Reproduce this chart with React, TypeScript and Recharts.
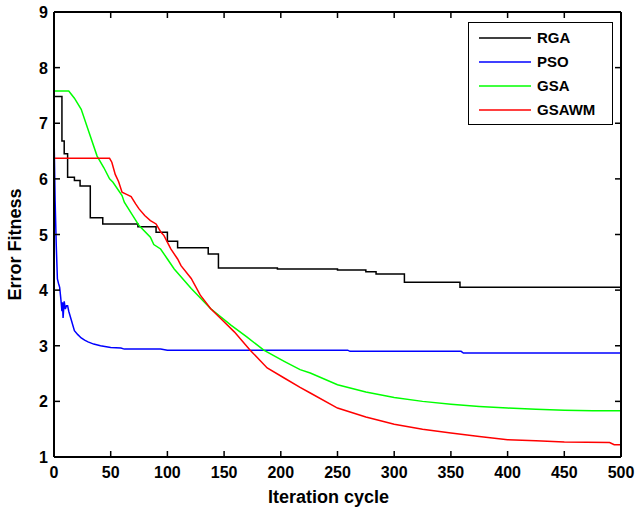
import React from 'react';
import { LineChart, Line, XAxis, YAxis, Legend } from 'recharts';

const FONT = '"Liberation Sans", Arial, Helvetica, sans-serif';

const xTicks = [0, 50, 100, 150, 200, 250, 300, 350, 400, 450, 500];
const yTicks = [1, 2, 3, 4, 5, 6, 7, 8, 9];

const seriesNames = ['RGA', 'PSO', 'GSA', 'GSAWM'];
const seriesColors = ['#000000', '#0000ff', '#00ff00', '#ff0000'];

const rgaIter = [0, 7, 9, 12, 18, 23, 32, 43, 74, 90, 100, 109, 136, 145, 197, 250, 275, 284, 309, 358, 500];
const rgaFit = [7.48, 6.68, 6.45, 6.03, 5.97, 5.87, 5.3, 5.19, 5.14, 5.04, 4.88, 4.76, 4.65, 4.4, 4.38, 4.36, 4.33, 4.29, 4.14, 4.05, 4.05];

const psoIter = [0, 1, 2, 3, 4, 5, 6, 7, 7.5, 8, 9, 10, 11, 12, 13, 15, 18, 21, 24, 27, 30, 35, 41, 50, 59, 62, 94, 100, 259, 261, 359, 361, 500];
const psoFit = [6.84, 5.6, 4.8, 4.2, 4.12, 4.05, 3.85, 3.62, 3.78, 3.5, 3.8, 3.66, 3.72, 3.72, 3.62, 3.48, 3.27, 3.2, 3.14, 3.1, 3.07, 3.03, 3.0, 2.97, 2.96, 2.94, 2.94, 2.92, 2.92, 2.9, 2.9, 2.87, 2.87];

const gsaIter = [0, 13, 18, 24, 31, 38, 44, 49, 52, 60, 62, 75, 85, 88, 94, 100, 106, 121, 138, 156, 170, 185, 203, 217, 226, 250, 275, 300, 325, 350, 375, 400, 425, 450, 475, 500];
const gsaFit = [7.58, 7.58, 7.45, 7.25, 6.83, 6.41, 6.2, 6.0, 5.94, 5.7, 5.58, 5.16, 4.95, 4.82, 4.74, 4.56, 4.38, 4.03, 3.67, 3.37, 3.16, 2.92, 2.72, 2.57, 2.51, 2.3, 2.17, 2.07, 2.0, 1.95, 1.91, 1.88, 1.86, 1.84, 1.83, 1.83];

const gsawmIter = [0, 49, 51, 54, 57, 60, 64, 68, 72, 75, 80, 85, 90, 94, 97, 103, 109, 112, 121, 129, 138, 147, 159, 173, 188, 203, 217, 226, 250, 275, 288, 300, 325, 350, 375, 400, 425, 450, 490, 494, 500];
const gsawmFit = [6.37, 6.37, 6.3, 6.08, 5.95, 5.76, 5.72, 5.68, 5.55, 5.46, 5.34, 5.25, 5.19, 5.05, 4.98, 4.74, 4.56, 4.44, 4.21, 3.91, 3.67, 3.49, 3.25, 2.92, 2.6, 2.42, 2.25, 2.15, 1.88, 1.72, 1.65, 1.59, 1.5, 1.43, 1.37, 1.31, 1.29, 1.27, 1.26, 1.22, 1.22];

const zip = (xs: number[], ys: number[]) => xs.map((x, i) => ({ x, y: ys[i] }));

const seriesData = [
  zip(rgaIter, rgaFit),
  zip(psoIter, psoFit),
  zip(gsaIter, gsaFit),
  zip(gsawmIter, gsawmFit),
];
const seriesTypes = ['stepAfter', 'linear', 'linear', 'linear'];

const TICK_LEN = 6;
const BOTTOM_MARGIN = 10;
const LEFT_MARGIN = 6;
const axisLineStyle = { stroke: '#000', strokeWidth: 2 };

const BottomTick = (props: any) => {
  const { x, y, payload } = props;
  const ay = y - BOTTOM_MARGIN;
  return (
    <g>
      <line x1={x} x2={x} y1={ay} y2={ay - TICK_LEN} stroke="#000" strokeWidth={1.5} />
      <text x={x} y={ay + 21} textAnchor="middle" fontFamily={FONT} fontWeight="bold" fontSize={16} fill="#000">
        {payload.value}
      </text>
    </g>
  );
};

const TopTick = (props: any) => {
  const { x, y } = props;
  return <line x1={x} x2={x} y1={y} y2={y + TICK_LEN} stroke="#000" strokeWidth={1.5} />;
};

const LeftTick = (props: any) => {
  const { x, y, payload } = props;
  const ax = x + LEFT_MARGIN;
  return (
    <g>
      <line x1={ax} x2={ax + TICK_LEN} y1={y} y2={y} stroke="#000" strokeWidth={1.5} />
      <text x={ax - 6} y={y + 6} textAnchor="end" fontFamily={FONT} fontWeight="bold" fontSize={16} fill="#000">
        {payload.value}
      </text>
    </g>
  );
};

const RightTick = (props: any) => {
  const { x, y } = props;
  return <line x1={x} x2={x - TICK_LEN} y1={y} y2={y} stroke="#000" strokeWidth={1.5} />;
};

const renderLegend = () => (
  <div
    style={{
      boxSizing: 'border-box',
      width: 145,
      height: 103,
      border: '1.5px solid #000',
      background: '#fff',
      paddingTop: 3,
      fontFamily: FONT,
      fontWeight: 'bold',
      fontSize: 15,
      color: '#000',
    }}
  >
    {seriesNames.map((n, i) => (
      <div key={n} style={{ display: 'flex', alignItems: 'center', height: 24 }}>
        <svg width={52} height={4} style={{ marginLeft: 10, display: 'block' }}>
          <line x1={0} x2={52} y1={2} y2={2} stroke={seriesColors[i]} strokeWidth={1.5} />
        </svg>
        <span style={{ marginLeft: 6, lineHeight: '24px' }}>{n}</span>
      </div>
    ))}
  </div>
);

const YTitle = (props: any) => {
  const vb = props.viewBox || {};
  const cx = (vb.x || 0) + 15;
  const cy = (vb.y || 0) + (vb.height || 0) / 2 + 10;
  return (
    <text
      x={cx}
      y={cy}
      transform={`rotate(-90, ${cx}, ${cy})`}
      textAnchor="middle"
      dominantBaseline="central"
      fontFamily={FONT}
      fontWeight="bold"
      fontSize={18}
      fill="#000"
    >
      Error Fitness
    </text>
  );
};

const XTitle = (props: any) => {
  const vb = props.viewBox || {};
  const cx = (vb.x || 0) + (vb.width || 0) / 2 - 9;
  const cy = (vb.y || 0) + 46;
  return (
    <text x={cx} y={cy} textAnchor="middle" fontFamily={FONT} fontWeight="bold" fontSize={18} fill="#000">
      Iteration cycle
    </text>
  );
};

export default function App() {
  return (
    <div style={{ position: 'absolute', left: 0, top: 0, background: '#fff' }}>
      <LineChart width={635} height={511} margin={{ top: 11, right: 13, bottom: 0, left: 0 }}>
        <XAxis
          xAxisId="b"
          dataKey="x"
          type="number"
          domain={[0, 500]}
          ticks={xTicks}
          interval={0}
          allowDataOverflow
          height={54}
          tickSize={0}
          tickMargin={BOTTOM_MARGIN}
          tick={<BottomTick />}
          axisLine={axisLineStyle}
          tickLine={false}
          label={<XTitle />}
        />
        <XAxis
          xAxisId="t"
          orientation="top"
          dataKey="x"
          type="number"
          domain={[0, 500]}
          ticks={xTicks}
          interval={0}
          allowDataOverflow
          height={1}
          tickSize={0}
          tickMargin={0}
          tick={<TopTick />}
          axisLine={axisLineStyle}
          tickLine={false}
        />
        <YAxis
          yAxisId="l"
          type="number"
          domain={[1, 9]}
          ticks={yTicks}
          interval={0}
          allowDataOverflow
          width={54}
          tickSize={0}
          tickMargin={LEFT_MARGIN}
          tick={<LeftTick />}
          axisLine={axisLineStyle}
          tickLine={false}
          label={<YTitle />}
        />
        <YAxis
          yAxisId="r"
          orientation="right"
          type="number"
          domain={[1, 9]}
          ticks={yTicks}
          interval={0}
          allowDataOverflow
          width={1}
          tickSize={0}
          tickMargin={0}
          tick={<RightTick />}
          axisLine={axisLineStyle}
          tickLine={false}
        />
        {seriesData.map((d, i) => (
          <Line
            key={seriesNames[i]}
            xAxisId="b"
            yAxisId="l"
            data={d}
            dataKey="y"
            name={seriesNames[i]}
            type={seriesTypes[i] as any}
            stroke={seriesColors[i]}
            strokeWidth={1.5}
            dot={false}
            activeDot={false}
            isAnimationActive={false}
          />
        ))}
        <Legend
          layout="horizontal"
          verticalAlign="middle"
          align="center"
          wrapperStyle={{ left: 468, top: 22, width: 145, height: 103 }}
          content={renderLegend}
        />
      </LineChart>
    </div>
  );
}
